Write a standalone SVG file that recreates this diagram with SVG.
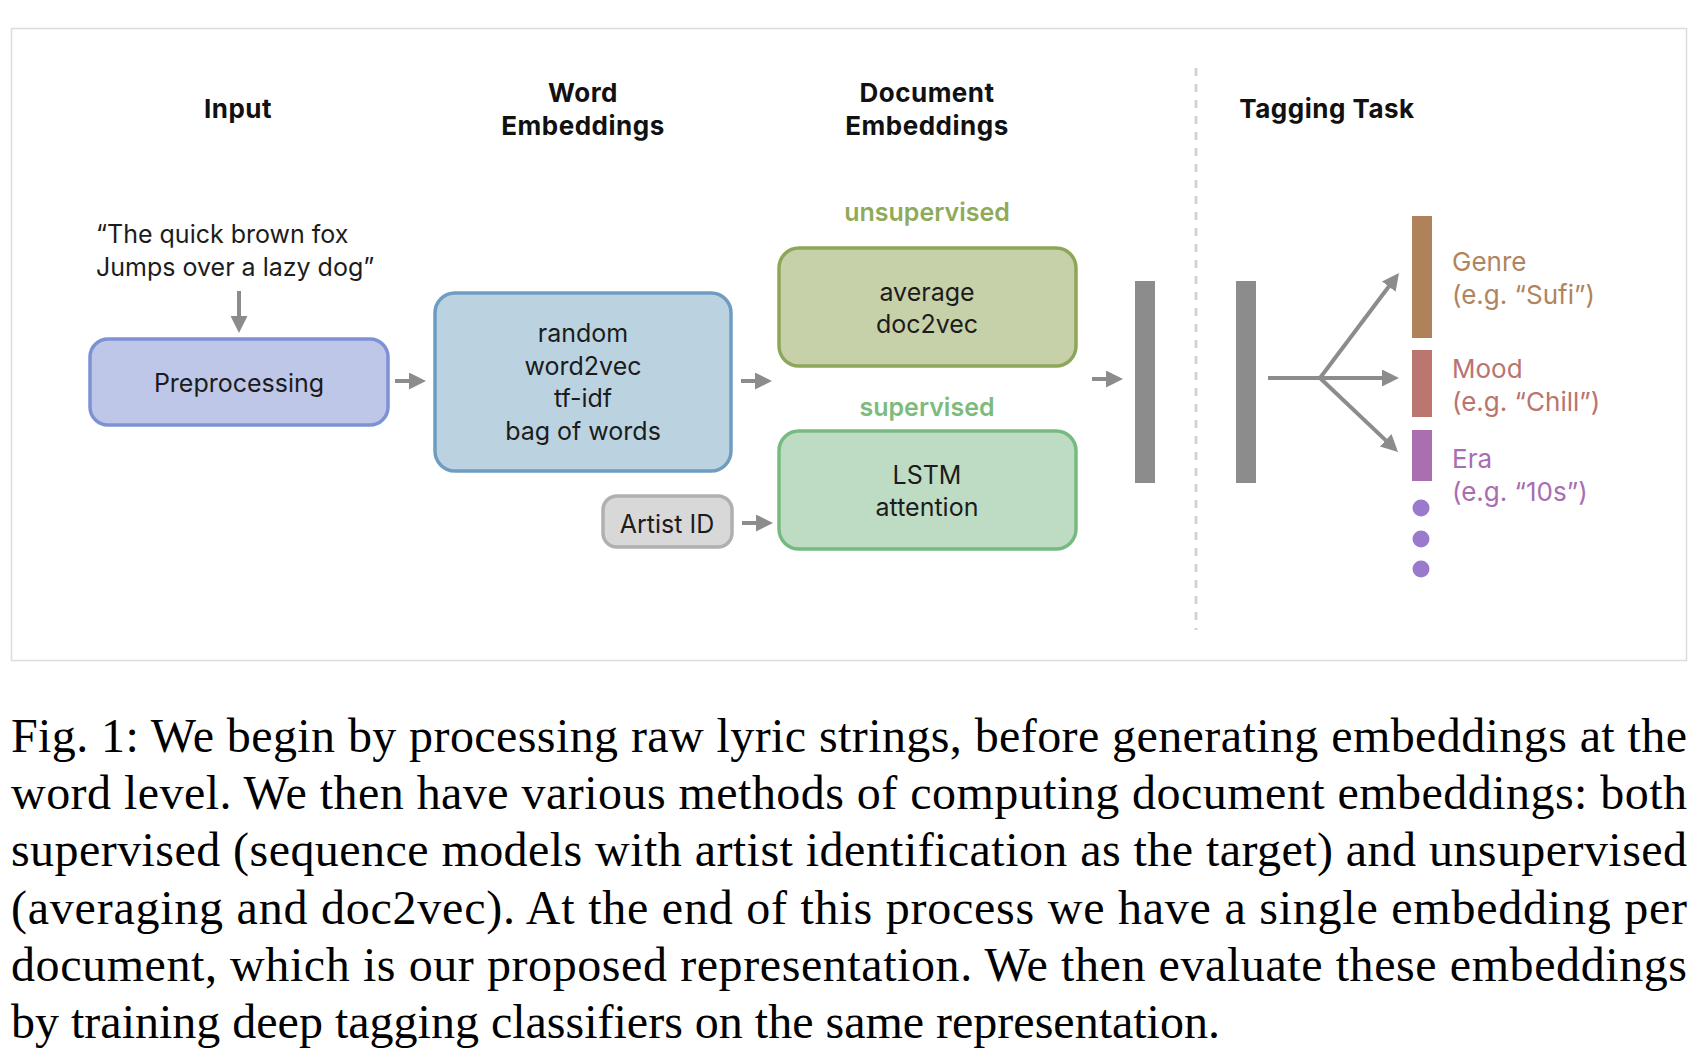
<svg xmlns="http://www.w3.org/2000/svg" width="1704" height="1062" viewBox="0 0 1704 1062">
<style>
.hd{font-family:Inter,"Liberation Sans",sans-serif;font-weight:700;font-size:26px;letter-spacing:0.5px;fill:#111;text-anchor:middle}
.tx{font-family:Inter,"Liberation Sans",sans-serif;font-size:25px;fill:#1c1c1c;text-anchor:middle}
.q{font-family:Inter,"Liberation Sans",sans-serif;font-size:25px;fill:#1c1c1c}
.lb{font-family:Inter,"Liberation Sans",sans-serif;font-size:25px;font-weight:600;text-anchor:middle}
.tg{font-family:Inter,"Liberation Sans",sans-serif;font-size:26px}
.cap{font-family:"Liberation Serif","Times New Roman",serif;font-size:48px;fill:#000}
.box{stroke-width:3.5}
.arr{stroke:#8c8c8c;stroke-width:4;fill:none;marker-end:url(#ah)}
.bar{fill:#8c8c8c}
</style>
<defs>
<marker id="ah" markerUnits="userSpaceOnUse" viewBox="0 0 17 17" refX="6" refY="8.5" markerWidth="17" markerHeight="17" orient="auto">
<path d="M0,0 L17,8.5 L0,17 z" fill="#8c8c8c"/>
</marker>
</defs>
<rect x="11.5" y="28.5" width="1675" height="632" fill="none" stroke="#dcdcdc" stroke-width="1.5"/>
<g id="headers">
<text class="hd" x="238" y="118">Input</text>
<text class="hd" x="583" y="102">Word</text>
<text class="hd" x="583" y="135">Embeddings</text>
<text class="hd" x="927" y="102">Document</text>
<text class="hd" x="927" y="135">Embeddings</text>
<text class="hd" x="1327" y="118">Tagging Task</text>
</g>
<g id="input-text">
<text class="q" x="96" y="243">“The quick brown fox</text>
<text class="q" x="96" y="276">Jumps over a lazy dog”</text>
</g>
<g id="preprocessing">
<rect class="box" x="90" y="339" width="298" height="86" rx="18" fill="#bfc7e8" stroke="#7e91d6"/>
<text class="tx" x="239" y="392">Preprocessing</text>
</g>
<g id="word-embeddings">
<rect class="box" x="435" y="293" width="296" height="178" rx="20" fill="#bbd3e1" stroke="#6f9dc2"/>
<text class="tx" x="583" y="342">random</text>
<text class="tx" x="583" y="375">word2vec</text>
<text class="tx" x="583" y="407">tf-idf</text>
<text class="tx" x="583" y="440">bag of words</text>
</g>
<g id="unsupervised">
<text class="lb" x="927" y="221" fill="#8fab5a">unsupervised</text>
<rect class="box" x="779" y="248" width="297" height="118" rx="20" fill="#c7d1a9" stroke="#8ea658"/>
<text class="tx" x="927" y="301">average</text>
<text class="tx" x="927" y="333">doc2vec</text>
</g>
<g id="supervised">
<text class="lb" x="927" y="416" fill="#7dbb7d">supervised</text>
<rect class="box" x="779" y="431" width="297" height="118" rx="20" fill="#bedcc3" stroke="#77ba81"/>
<text class="tx" x="927" y="484">LSTM</text>
<text class="tx" x="927" y="516">attention</text>
</g>
<g id="artist-id">
<rect class="box" x="603" y="496" width="129" height="51" rx="14" fill="#d8d8d8" stroke="#b0b0b0"/>
<text class="tx" x="667" y="533">Artist ID</text>
</g>
<g id="embedding-bar">
<rect class="bar" x="1135" y="281" width="20" height="202"/>
</g>
<line x1="1196" y1="68" x2="1196" y2="630" stroke="#d2d2d2" stroke-width="3" stroke-dasharray="8 8"/>
<g id="classifier-bar">
<rect class="bar" x="1236" y="281" width="20" height="202"/>
</g>
<g id="genre">
<rect x="1412" y="216" width="20" height="122" fill="#b08259"/>
<text class="tg" x="1452" y="271" fill="#b0845c">Genre</text>
<text class="tg" x="1452" y="304" fill="#b0845c">(e.g. “Sufi”)</text>
</g>
<g id="mood">
<rect x="1412" y="350" width="20" height="67" fill="#bb7670"/>
<text class="tg" x="1452" y="378" fill="#b97470">Mood</text>
<text class="tg" x="1452" y="411" fill="#b97470">(e.g. “Chill”)</text>
</g>
<g id="era">
<rect x="1412" y="430" width="20" height="51" fill="#a96fb0"/>
<text class="tg" x="1452" y="468" fill="#a86db3">Era</text>
<text class="tg" x="1452" y="501" fill="#a86db3">(e.g. “10s”)</text>
</g>
<g id="more">
<circle cx="1421" cy="508" r="8.5" fill="#9a7acc"/>
<circle cx="1421" cy="539" r="8.5" fill="#9a7acc"/>
<circle cx="1421" cy="569" r="8.5" fill="#9a7acc"/>
</g>
<g id="connectors">
<line class="arr" x1="239" y1="291" x2="239" y2="322"/>
<line class="arr" x1="395" y1="381" x2="415" y2="381"/>
<line class="arr" x1="741" y1="381" x2="761" y2="381"/>
<line class="arr" x1="742" y1="523" x2="762" y2="523"/>
<line class="arr" x1="1092" y1="379" x2="1112" y2="379"/>
<line x1="1268" y1="378" x2="1322" y2="378" stroke="#8c8c8c" stroke-width="4"/>
<line class="arr" x1="1320" y1="378" x2="1392.4" y2="281.8"/>
<line class="arr" x1="1320" y1="378" x2="1388" y2="378"/>
<line class="arr" x1="1320" y1="378" x2="1390" y2="444.4"/>
</g>
<g id="caption">
<text class="cap" x="11" y="752" textLength="1676" lengthAdjust="spacing">Fig. 1: We begin by processing raw lyric strings, before generating embeddings at the</text>
<text class="cap" x="11" y="809" textLength="1676" lengthAdjust="spacing">word level. We then have various methods of computing document embeddings: both</text>
<text class="cap" x="11" y="866" textLength="1676" lengthAdjust="spacing">supervised (sequence models with artist identification as the target) and unsupervised</text>
<text class="cap" x="11" y="924" textLength="1676" lengthAdjust="spacing">(averaging and doc2vec). At the end of this process we have a single embedding per</text>
<text class="cap" x="11" y="981" textLength="1676" lengthAdjust="spacing">document, which is our proposed representation. We then evaluate these embeddings</text>
<text class="cap" x="11" y="1038">by training deep tagging classifiers on the same representation.</text>
</g>
</svg>
